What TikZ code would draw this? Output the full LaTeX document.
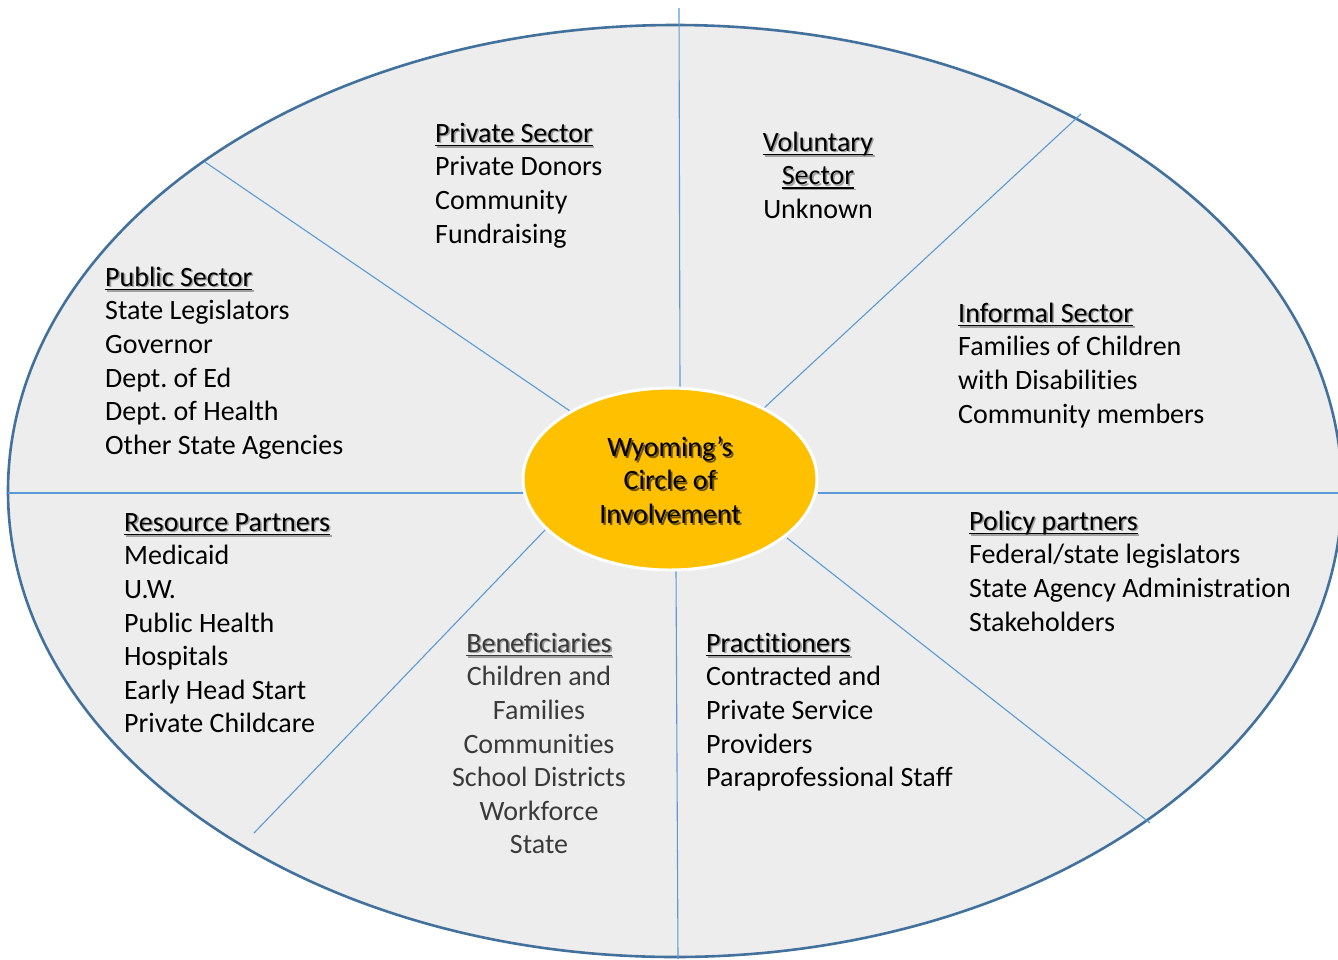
\documentclass[tikz,border=0pt]{standalone}
\usepackage{fontspec}
\setmainfont[Ligatures={NoCommon}]{Carlito}
\usetikzlibrary{shapes.geometric}
\frenchspacing
\definecolor{ringfill}{HTML}{EDEDED}
\definecolor{ringline}{HTML}{41719C}
\definecolor{spokeblue}{HTML}{5B9BD5}
\definecolor{hubfill}{HTML}{FFC000}
\definecolor{shadowgray}{HTML}{A0A0A0}
\definecolor{hubshadow}{HTML}{6E5200}
\definecolor{lightink}{HTML}{3A3A3A}
\newcommand\ulx[1]{\setbox0\hbox{#1}\rlap{\rule[-4pt]{\wd0}{1.6pt}}\box0}
\newcommand\shd[1]{\rlap{\kern1.6pt\raisebox{-1.6pt}{\color{shadowgray}#1}}#1}
\newcommand\hshd[1]{\rlap{\kern1.8pt\raisebox{-1.8pt}{\color{hubshadow}#1}}#1}
\newcommand\ttl[1]{\shd{\ulx{#1}}}
\tikzset{
  ring/.style={fill=ringfill, draw=ringline, line width=2.6pt},
  spoke/.style={draw=spokeblue, line width=1.1pt},
  hub/.style={ellipse, fill=hubfill, draw=white, line width=3pt, minimum width=294pt, minimum height=182pt, inner sep=0pt},
  hubtext/.style={inner sep=0pt, align=center, font=\fontsize{28}{33.6}\selectfont},
  blk/.style={anchor=north west, inner sep=0pt, align=left, font=\fontsize{28}{33.6}\selectfont},
  cblk/.style={anchor=north, inner sep=0pt, align=center, font=\fontsize{28}{33.6}\selectfont}
}
\begin{document}
\begin{tikzpicture}[x=1pt,y=-1pt]
\useasboundingbox (0,0) rectangle (1338,959);
\begin{scope}
\clip (0,0) rectangle (1338,959);
\draw[ring] (675,491) ellipse [x radius=667pt, y radius=466pt];
\end{scope}
% spoke end points
\coordinate (t1) at (679,8);    \coordinate (t2) at (680,388);
\coordinate (b1) at (676,570);  \coordinate (b2) at (678,959);
\coordinate (l1) at (8,493);    \coordinate (l2) at (524,493);
\coordinate (r1) at (818,493);  \coordinate (r2) at (1338,493);
\coordinate (ul1) at (205,162); \coordinate (ul2) at (570,411);
\coordinate (ur1) at (1081,114);\coordinate (ur2) at (764,408);
\coordinate (ll1) at (545,530); \coordinate (ll2) at (254,833);
\coordinate (lr1) at (787,538); \coordinate (lr2) at (1150,823);
\draw[spoke] (t1) -- (t2);
\draw[spoke] (b1) -- (b2);
\draw[spoke] (l1) -- (l2);
\draw[spoke] (r1) -- (r2);
\draw[spoke] (ul1) -- (ul2);
\draw[spoke] (ur1) -- (ur2);
\draw[spoke] (ll1) -- (ll2);
\draw[spoke] (lr1) -- (lr2);
\node[hub] (hub) at (670,479) {};
\node[hubtext] (hublabel) at (670,481) {\hshd{Wyoming’s}\\\hshd{Circle of}\\\hshd{Involvement}};
\node[blk] (private) at (435,118.5) {\strut\ttl{Private Sector}\\Private Donors\\Community\\Fundraising};
\node[cblk] (voluntary) at (818,127.5) {\strut\ttl{Voluntary}\\\ttl{Sector}\\Unknown};
\node[blk] (public) at (105,262.5) {\strut\ttl{Public Sector}\\State Legislators\\Governor\\Dept. of Ed\\Dept. of Health\\Other State Agencies};
\node[blk] (informal) at (958,298.5) {\strut\ttl{Informal Sector}\\Families of Children\\with Disabilities\\Community members};
\node[blk] (resource) at (124,507.5) {\strut\ttl{Resource Partners}\\Medicaid\\U.W.\\Public Health\\Hospitals\\Early Head Start\\Private Childcare};
\node[blk] (policy) at (969,506.5) {\strut\ttl{Policy partners}\\Federal/state legislators\\State Agency Administration\\Stakeholders};
\node[cblk, text=lightink] (benef) at (539,628.5) {\strut\ttl{Beneficiaries}\\Children and\\Families\\Communities\\School Districts\\Workforce\\State};
\node[blk] (pract) at (706,628.5) {\strut\ttl{Practitioners}\\Contracted and\\Private Service\\Providers\\Paraprofessional Staff};
\end{tikzpicture}
\end{document}
